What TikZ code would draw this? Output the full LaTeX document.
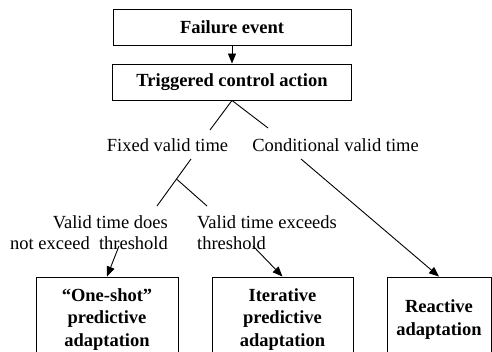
\documentclass[tikz,border=0pt]{standalone}
\usepackage{fontspec}
\setmainfont{Liberation Serif}
\usetikzlibrary{
  arrows.meta
}
\tikzset{
  stage box/.style={
    draw,
    line width=0.9pt,
    font=\fontsize{18.5}{22.5}\selectfont\bfseries,
    align=center,
    inner sep=0pt
  },
  branch line/.style={
    line width=0.9pt
  },
  branch arrow/.style={
    line width=0.9pt,
    -{Triangle[length=10pt,width=8pt]}
  }
}

\begin{document}
\begin{tikzpicture}[x=1pt,y=-1pt,font=\fontsize{18.5}{21.5}\selectfont]

    \useasboundingbox (0,0) rectangle (492,352);
    \clip (0,0) rectangle (492,352);

    % ---------- top boxes ----------
    \node[stage box, minimum width=238pt, minimum height=36pt]
      (fail) at (232,27) {Failure event};
    \node[stage box, minimum width=239pt, minimum height=36pt]
      (trig) at (232,82) {Triggered control action};

    % ---------- branch labels ----------
    \node (fixed) at (167.5,145) {Fixed valid time};
    \node (cond) at (335.5,145) {Conditional valid time};
    \node[align=right] (notexc) at (89,232.5)
      {Valid time does\\not exceed\ \ threshold};
    \node[align=left] (exc) at (267,232.5)
      {Valid time exceeds\\threshold};

    % ---------- outcome boxes ----------
    \node[stage box, minimum width=142pt, minimum height=85pt]
      (oneshot) at (107,319.5) {“One-shot”\\predictive\\adaptation};
    \node[stage box, minimum width=141pt, minimum height=85pt]
      (iter) at (282.5,319.5) {Iterative\\predictive\\adaptation};
    \node[stage box, minimum width=104pt, minimum height=85pt]
      (react) at (439,319.5) {Reactive\\adaptation};

    % line ends
    \coordinate (fixtip) at (210,130);
    \coordinate (condtip) at (268,128);
    \coordinate (fixfoot) at (191,159);
    \coordinate (fork) at (176.5,179);
    \coordinate (notexctip) at (157,206);
    \coordinate (exctip) at (207,206);
    \coordinate (condfoot) at (301,159);
    \coordinate (notexcfoot) at (119,246);
    \coordinate (excfoot) at (253,246);

    % ---------- connectors ----------
    \draw[branch arrow] (fail) -- (trig);
    \draw[branch line] (trig.south) -- (fixtip);
    \draw[branch line] (trig.south) -- (condtip);
    \draw[branch line] (fixfoot) -- (notexctip);
    \draw[branch line] (fork) -- (exctip);
    \draw[branch arrow] (notexcfoot) -- (oneshot.north);
    \draw[branch arrow] (excfoot) -- (iter.north);
    \draw[branch arrow] (condfoot) -- (react.north);

\end{tikzpicture}
\end{document}
